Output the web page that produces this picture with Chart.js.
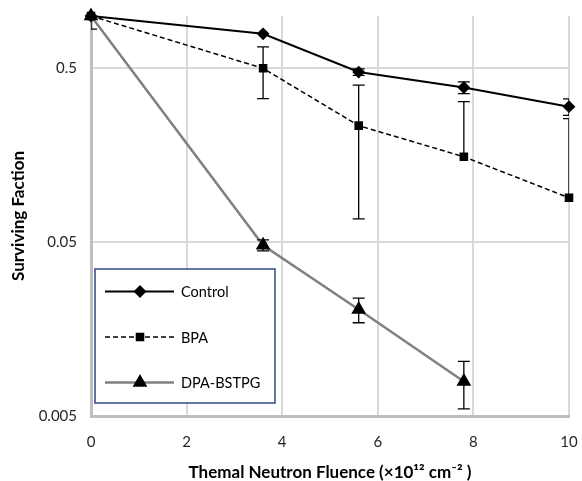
<!DOCTYPE html>
<html>
<head>
<meta charset="utf-8">
<script src="https://cdn.jsdelivr.net/npm/chart.js@4.4.1/dist/chart.umd.min.js"></script>
<style>
  html, body { margin: 0; padding: 0; background: #fff; }
  #wrap { width: 582px; height: 481px; }
</style>
</head>
<body>
<div id="wrap"><canvas id="myChart" width="582" height="481"></canvas></div>
<script>
var fluence = [0, 3.6, 5.6, 7.8, 10];
var controlVals = [1, 0.79, 0.476, 0.388, 0.301];
var controlErr = [0, 0, 0.021, 0.03, 0.033];
var bpaVals = [1, 0.5, 0.234, 0.155, 0.09];
var bpaErr = [0.16, 0.165, 0.166, 0.167, 0.167];
var dpaVals = [1, 0.048, 0.0205, 0.0079];
var dpaErr = [0, 0.0035, 0.0033, 0.0024];
var yTicks = [0.005, 0.05, 0.5];
var xTicks = [0, 2, 4, 6, 8, 10];

function pts(vals) {
    return vals.map(function (v, i) { return { x: fluence[i], y: v }; });
}

var FONT = "Lato, 'Open Sans', sans-serif";

// error bars, symmetric in value; negative ends are left out like Excel does
var errorBars = {
    id: 'errorBars',
    afterDatasetsDraw: function (chart) {
        var ctx = chart.ctx, a = chart.chartArea;
        var ys = chart.scales.y;
        ctx.save();
        ctx.beginPath();
        ctx.rect(a.left, a.top, a.right - a.left, a.bottom - a.top);
        ctx.clip();
        ctx.strokeStyle = '#000';
        ctx.lineWidth = 1.3;
        chart.data.datasets.forEach(function (ds, di) {
            var meta = chart.getDatasetMeta(di);
            ds.err.forEach(function (e, i) {
                if (!e) return;
                var v = ds.data[i].y;
                var px = meta.data[i].x;
                var py = meta.data[i].y;
                var up = ys.getPixelForValue(v + e);
                var lo = v - e > 0 ? ys.getPixelForValue(v - e) : null;
                ctx.beginPath();
                ctx.moveTo(px, up);
                ctx.lineTo(px, lo === null ? py : lo);
                ctx.moveTo(px - 6, up);
                ctx.lineTo(px + 6, up);
                if (lo !== null) {
                    ctx.moveTo(px - 6, lo);
                    ctx.lineTo(px + 6, lo);
                }
                ctx.stroke();
            });
        });
        ctx.restore();
    }
};

// boxed legend inside the plot
var boxLegend = {
    id: 'boxLegend',
    afterDraw: function (chart) {
        var ctx = chart.ctx;
        var bx = 95, by = 269, bw = 180, bh = 134;
        ctx.save();
        ctx.fillStyle = '#fff';
        ctx.fillRect(bx, by, bw, bh);
        ctx.strokeStyle = '#2f4a7f';
        ctx.lineWidth = 1.5;
        ctx.strokeRect(bx, by, bw, bh);
        var rows = [291.5, 337, 382.5];
        chart.data.datasets.forEach(function (ds, i) {
            var y = rows[i];
            ctx.strokeStyle = ds.borderColor;
            ctx.lineWidth = ds.borderWidth;
            ctx.setLineDash(ds.borderDash || []);
            ctx.beginPath();
            ctx.moveTo(105, y);
            ctx.lineTo(174, y);
            ctx.stroke();
            ctx.setLineDash([]);
            ctx.fillStyle = '#000';
            ctx.strokeStyle = '#000';
            Chart.helpers.drawPoint(ctx, {
                pointStyle: ds.pointStyle,
                radius: ds.pointRadius,
                borderWidth: 1
            }, 140, y);
            ctx.font = '14.5px ' + FONT;
            ctx.textBaseline = 'middle';
            ctx.fillText(ds.label, 181, y + 1);
        });
        ctx.restore();
    }
};

var ctx = document.getElementById('myChart').getContext('2d');
var myChart = new Chart(ctx, {
    type: 'line',
    data: {
        datasets: [{
            label: 'Control',
            data: pts(controlVals),
            err: controlErr,
            borderColor: '#000',
            backgroundColor: '#000',
            borderWidth: 2,
            pointStyle: 'rectRot',
            pointRadius: 5,
            pointBackgroundColor: '#000',
            pointBorderColor: '#000'
        }, {
            label: 'BPA',
            data: pts(bpaVals),
            err: bpaErr,
            borderColor: '#000',
            backgroundColor: '#000',
            borderWidth: 1.5,
            borderDash: [5, 3],
            pointStyle: 'rect',
            pointRadius: 5,
            pointBackgroundColor: '#000',
            pointBorderColor: '#000'
        }, {
            label: 'DPA-BSTPG',
            data: pts(dpaVals),
            err: dpaErr,
            borderColor: '#808080',
            backgroundColor: '#000',
            borderWidth: 2.5,
            pointStyle: 'triangle',
            pointRadius: 6,
            pointBackgroundColor: '#000',
            pointBorderColor: '#000'
        }]
    },
    options: {
        responsive: false,
        animation: false,
        clip: false,
        layout: { padding: { left: 8, right: 13, top: 16, bottom: 0 } },
        plugins: {
            legend: { display: false },
            tooltip: { enabled: false }
        },
        elements: { point: { borderWidth: 1 }, line: { tension: 0 } },
        scales: {
            x: {
                type: 'linear',
                min: 0,
                max: 10,
                afterBuildTicks: function (axis) {
                    axis.ticks = xTicks.map(function (v) { return { value: v }; });
                },
                grid: { color: '#d9d9d9', lineWidth: 2, drawTicks: false },
                border: { color: '#bfbfbf', width: 3 },
                ticks: {
                    color: '#262626',
                    font: { family: FONT, size: 15 },
                    padding: 17
                },
                title: {
                    display: true,
                    text: 'Themal Neutron Fluence (×10¹² cm⁻² )',
                    color: '#000',
                    font: { family: FONT, size: 17, weight: 'bold', lineHeight: 1 },
                    padding: { top: 8, bottom: 0 }
                },
                afterFit: function (axis) {
                    axis.height = 65;
                    axis.paddingLeft = 0;
                    axis.paddingRight = 0;
                }
            },
            y: {
                type: 'logarithmic',
                min: 0.005,
                max: 1,
                afterBuildTicks: function (axis) {
                    axis.ticks = yTicks.map(function (v) { return { value: v }; });
                },
                grid: { color: '#d9d9d9', lineWidth: 2, drawTicks: false },
                border: { color: '#bfbfbf', width: 3 },
                ticks: {
                    color: '#262626',
                    font: { family: FONT, size: 15 },
                    padding: 14,
                    callback: function (v) { return String(v); }
                },
                title: {
                    display: true,
                    text: 'Surviving Faction',
                    color: '#000',
                    font: { family: FONT, size: 17, weight: 'bold' },
                    padding: { top: 0, bottom: 4 }
                },
                afterFit: function (axis) {
                    axis.width = 83;
                    axis.paddingTop = 0;
                    axis.paddingBottom = 0;
                }
            }
        }
    },
    plugins: [errorBars, boxLegend]
});
</script>
</body>
</html>
